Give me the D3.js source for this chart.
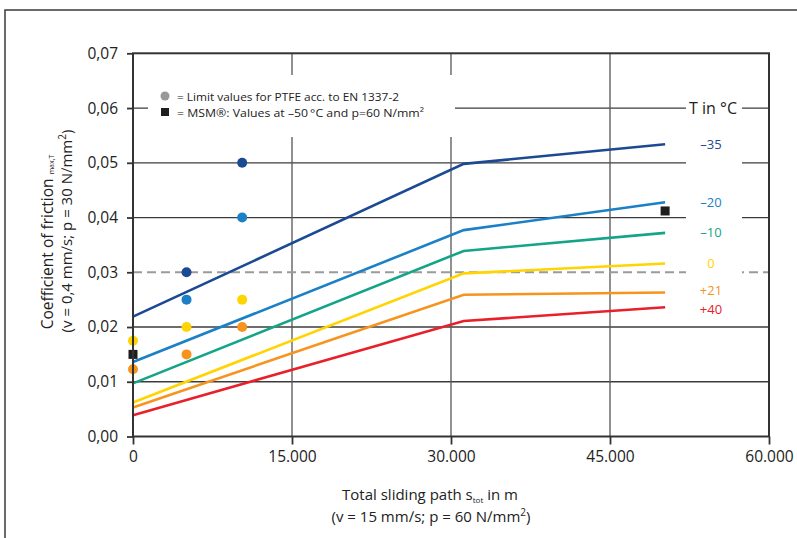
<!DOCTYPE html>
<html>
<head>
<meta charset="utf-8">
<script src="https://cdn.jsdelivr.net/npm/d3@7"></script>
<style>
  body { margin: 0; background: #fff; }
  svg { display: block; font-family: "Open Sans", sans-serif; }
</style>
</head>
<body>
<div id="chart"></div>
<script>
// Coefficient of friction vs. total sliding path, per temperature

// Temperature series (labels on the right)
const temps = ['\u201335', '\u201320', '\u201310', '0', '+21', '+40'];
const tempColors = ['#1b4a93', '#1b80c6', '#14a488', '#ffd400', '#f7941d', '#e8202a'];

// Sliding path breakpoints (m)
const pathX = [0, 31200, 50200];

// Friction values per temperature at the breakpoints
const muM35 = [0.0219, 0.0498, 0.0534];
const muM20 = [0.0136, 0.0377, 0.0428];
const muM10 = [0.0097, 0.0339, 0.0372];
const mu0 = [0.0062, 0.0298, 0.0316];
const muP21 = [0.0053, 0.0259, 0.0263];
const muP40 = [0.0039, 0.0211, 0.0236];
const seriesMu = [muM35, muM20, muM10, mu0, muP21, muP40];

// PTFE limit values (EN 1337-2), coloured by temperature series index
const limitX = [0, 0, 5050, 5050, 5050, 5050, 10300, 10300, 10300, 10300];
const limitMu = [0.0175, 0.0123, 0.030, 0.025, 0.020, 0.015, 0.050, 0.040, 0.025, 0.020];
const limitSeries = [3, 4, 0, 1, 3, 4, 0, 1, 3, 4];

// MSM values at -50 °C
const msmX = [0, 50200];
const msmMu = [0.0150, 0.0412];

// Reference limit line
const limitLine = 0.03;

// Axis ticks
const xTicks = [0, 15000, 30000, 45000, 60000];
const xTickLabels = ['0', '15.000', '30.000', '45.000', '60.000'];
const yTicks = [0, 0.01, 0.02, 0.03, 0.04, 0.05, 0.06, 0.07];
const yTickLabels = ['0,00', '0,01', '0,02', '0,03', '0,04', '0,05', '0,06', '0,07'];

const width = 797, height = 538;
const margin = { top: 53.3, right: 28, bottom: 101.5, left: 133 };

const svg = d3.select('#chart').append('svg')
    .attr('width', width)
    .attr('height', height);

// Outer frame (top and left only)
svg.append('path')
    .attr('d', `M5,${height} V10 H${width}`)
    .attr('fill', 'none')
    .attr('stroke', '#3a3a3a')
    .attr('stroke-width', 1.5);

const x = d3.scaleLinear().domain([0, 60000]).range([margin.left, width - margin.right]);
const y = d3.scaleLinear().domain([0, 0.07]).range([height - margin.bottom, margin.top]);

// Grid
const grid = svg.append('g');
grid.selectAll('line.h')
    .data(yTicks.filter(d => d > 0 && d < 0.07 && d !== limitLine))
    .join('line')
    .attr('x1', x(0)).attr('x2', x(60000))
    .attr('y1', d => y(d)).attr('y2', d => y(d))
    .attr('stroke', '#3c3c3c')
    .attr('stroke-width', 1.3);
grid.selectAll('line.v')
    .data(xTicks.filter(d => d > 0 && d < 60000))
    .join('line')
    .attr('x1', d => x(d)).attr('x2', d => x(d))
    .attr('y1', y(0)).attr('y2', y(0.07))
    .attr('stroke', '#555')
    .attr('stroke-width', 1.3);

// Dashed limit line
svg.append('line')
    .attr('x1', x(0)).attr('x2', x(60000))
    .attr('y1', y(limitLine)).attr('y2', y(limitLine))
    .attr('stroke', '#9a9a9a')
    .attr('stroke-width', 2)
    .attr('stroke-dasharray', '9,5');

// White knock-outs behind legend and temperature labels
svg.append('rect')
    .attr('x', 148).attr('y', 75).attr('width', 307).attr('height', 62)
    .attr('fill', '#fff');
svg.append('rect')
    .attr('x', 686).attr('y', 95).attr('width', 56).attr('height', 222)
    .attr('fill', '#fff');

// Series lines
const line = d3.line()
    .x((d, i) => x(pathX[i]))
    .y(d => y(d));

svg.append('g')
    .selectAll('path')
    .data(seriesMu)
    .join('path')
    .attr('d', d => line(d))
    .attr('fill', 'none')
    .attr('stroke', (d, i) => tempColors[i])
    .attr('stroke-width', 2.6);

// Limit value dots
svg.append('g')
    .selectAll('circle')
    .data(limitMu)
    .join('circle')
    .attr('cx', (d, i) => x(limitX[i]))
    .attr('cy', d => y(d))
    .attr('r', 5)
    .attr('fill', (d, i) => tempColors[limitSeries[i]]);

// MSM squares
svg.append('g')
    .selectAll('rect')
    .data(msmMu)
    .join('rect')
    .attr('x', (d, i) => x(msmX[i]) - 4.5)
    .attr('y', d => y(d) - 4.5)
    .attr('width', 9).attr('height', 9)
    .attr('fill', '#1e1e1e');

// Plot frame
svg.append('rect')
    .attr('x', x(0)).attr('y', y(0.07))
    .attr('width', x(60000) - x(0))
    .attr('height', y(0) - y(0.07))
    .attr('fill', 'none')
    .attr('stroke', '#333')
    .attr('stroke-width', 2);

// Axes
const xAxis = d3.axisBottom(x)
    .tickValues(xTicks)
    .tickFormat((d, i) => xTickLabels[i])
    .tickSize(8)
    .tickPadding(6);
const yAxis = d3.axisLeft(y)
    .tickValues(yTicks)
    .tickFormat((d, i) => yTickLabels[i])
    .tickSize(6)
    .tickPadding(9);

const gx = svg.append('g')
    .attr('transform', `translate(0,${y(0)})`)
    .call(xAxis);
const gy = svg.append('g')
    .attr('transform', `translate(${x(0)},0)`)
    .call(yAxis);

[gx, gy].forEach(g => {
    g.select('.domain').remove();
    g.selectAll('.tick line').attr('stroke', '#333').attr('stroke-width', 1.8);
    g.selectAll('.tick text')
        .attr('fill', '#222')
        .attr('font-size', 15.5)
        .attr('font-family', '"Open Sans", sans-serif');
});

// Temperature labels
svg.append('text')
    .attr('x', 713).attr('y', y(0.06) + 5.5)
    .attr('text-anchor', 'middle')
    .attr('font-size', 16)
    .attr('fill', '#222')
    .text('T in \u00b0C');

// label y at the line end, pushed apart where they would collide
const labelY = seriesMu.map(s => y(s[s.length - 1]));
for (let i = 1; i < labelY.length; i++) {
    const gap = labelY[i] - labelY[i - 1];
    if (gap < 18.5) {
        const mid = (labelY[i] + labelY[i - 1]) / 2;
        labelY[i - 1] = mid - 9.25;
        labelY[i] = mid + 9.25;
    }
}

svg.append('g')
    .selectAll('text')
    .data(temps)
    .join('text')
    .attr('x', 711)
    .attr('y', (d, i) => labelY[i] + 4.5)
    .attr('text-anchor', 'middle')
    .attr('font-size', 13)
    .attr('fill', (d, i) => tempColors[i])
    .text(d => d);

// Legend
const legend = svg.append('g');
legend.append('circle')
    .attr('cx', 165).attr('cy', 96).attr('r', 4.5)
    .attr('fill', '#999');
legend.append('rect')
    .attr('x', 161).attr('y', 108).attr('width', 8).attr('height', 8)
    .attr('fill', '#1e1e1e');
legend.append('text')
    .attr('x', 177).attr('y', 100.5)
    .attr('font-size', 11.5)
    .attr('textLength', 222)
    .attr('lengthAdjust', 'spacingAndGlyphs')
    .attr('fill', '#222')
    .text('=  Limit values for PTFE acc. to EN 1337-2');
legend.append('text')
    .attr('x', 177).attr('y', 116.5)
    .attr('font-size', 11.5)
    .attr('textLength', 247)
    .attr('lengthAdjust', 'spacingAndGlyphs')
    .attr('fill', '#222')
    .text('=  MSM\u00ae: Values at \u201350\u2009\u00b0C and p=60 N\u2215mm\u00b2');

// X axis title
const xt = svg.append('text')
    .attr('x', 430).attr('y', 500)
    .attr('text-anchor', 'middle')
    .attr('font-size', 15)
    .attr('fill', '#222');
xt.append('tspan').text('Total sliding path s');
xt.append('tspan').attr('font-size', 8).attr('dy', 3).text('tot');
xt.append('tspan').attr('dy', -3).text(' in m');
const xt2 = svg.append('text')
    .attr('x', 431).attr('y', 522)
    .attr('text-anchor', 'middle')
    .attr('font-size', 15)
    .attr('fill', '#222');
xt2.append('tspan').text('(v = 15 mm\u2215s; p = 60 N\u2215mm');
xt2.append('tspan').attr('font-size', 10).attr('dy', -6).text('2');
xt2.append('tspan').attr('dy', 6).text(')');

// Y axis title
const yt = svg.append('text')
    .attr('transform', 'translate(53,242) rotate(-90)')
    .attr('text-anchor', 'middle')
    .attr('font-size', 15.5)
    .attr('fill', '#222');
yt.append('tspan').text('Coefficient of friction ');
yt.append('tspan').attr('font-size', 7).attr('dy', 1).text('max,T');
const yt2 = svg.append('text')
    .attr('transform', 'translate(72,231) rotate(-90)')
    .attr('text-anchor', 'middle')
    .attr('font-size', 15)
    .attr('fill', '#222');
yt2.append('tspan').text('(v = 0,4 mm\u2215s; p = 30 N\u2215mm');
yt2.append('tspan').attr('font-size', 10).attr('dy', -6).text('2');
yt2.append('tspan').attr('dy', 6).text(')');
</script>
</body>
</html>
